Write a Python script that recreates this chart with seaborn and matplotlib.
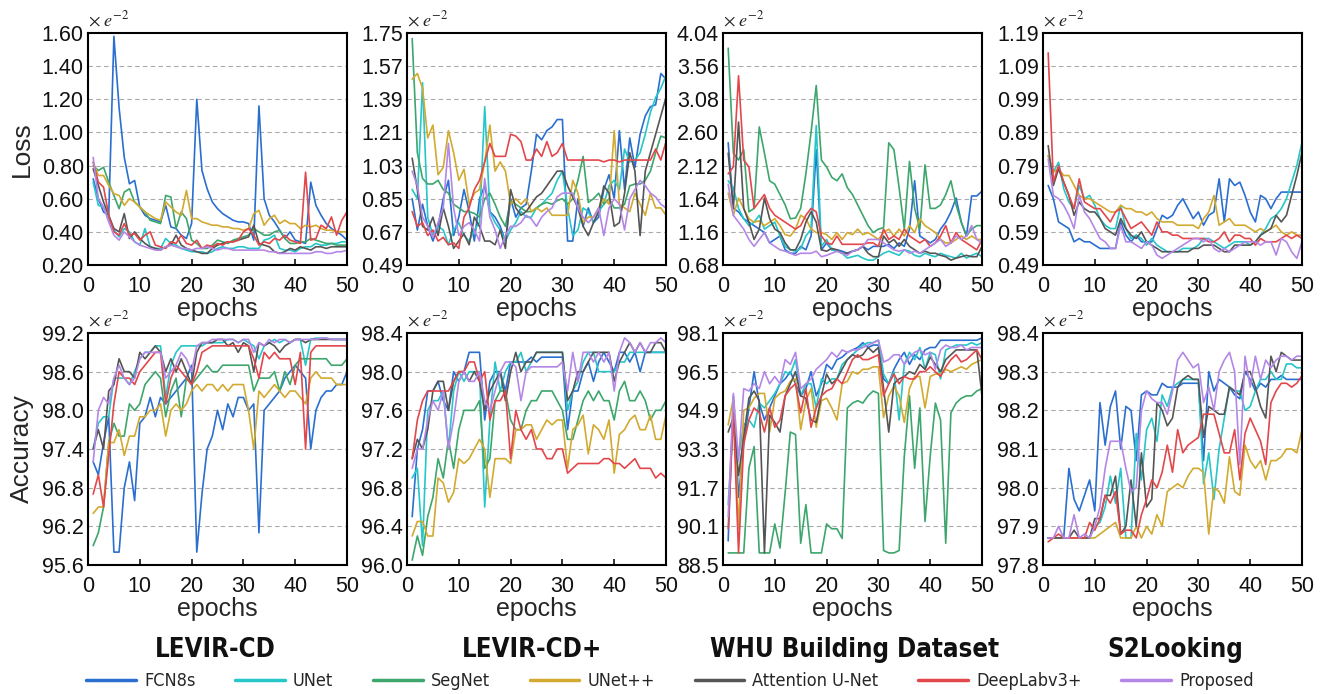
import matplotlib
matplotlib.use('Agg')
import matplotlib.pyplot as plt
import numpy as np
import pandas as pd
import seaborn as sns
from matplotlib.lines import Line2D

sns.set_theme(style='white')
plt.rcParams['font.family'] = ['Liberation Sans', 'DejaVu Sans']
plt.rcParams['mathtext.fontset'] = 'stix'

epochs = list(range(1, 51))
models = ['FCN8s', 'UNet', 'SegNet', 'UNet++', 'Attention U-Net', 'DeepLabv3+', 'Proposed']
colors = ['#2a6fd0', '#26c6c9', '#3da66c', '#d2aa2f', '#555555', '#e2474b', '#b487e6']
datasets = ['LEVIR-CD', 'LEVIR-CD+', 'WHU Building Dataset', 'S2Looking']

# ---------------- LEVIR-CD loss ----------------
levir_loss_fcn8s = [0.72,0.60,0.52,0.50,1.58,1.15,0.85,0.69,0.71,0.55, 0.50,0.48,0.47,0.46,0.56,0.43,0.42,0.38,0.36,0.45,
                    1.20,0.77,0.66,0.58,0.54,0.51,0.49,0.47,0.46,0.46, 0.45,0.35,1.16,0.60,0.50,0.46,0.41,0.36,0.40,0.35,
                    0.34,0.33,0.70,0.56,0.50,0.45,0.42,0.40,0.38,0.35]
levir_loss_unet = [0.70,0.56,0.55,0.48,0.41,0.37,0.42,0.40,0.34,0.32, 0.42,0.31,0.30,0.30,0.36,0.33,0.32,0.30,0.29,0.28,
                   0.28,0.28,0.27,0.28,0.30,0.31,0.30,0.30,0.31,0.31, 0.30,0.30,0.30,0.35,0.36,0.38,0.30,0.29,0.29,0.28,
                   0.30,0.31,0.31,0.33,0.32,0.32,0.33,0.33,0.34,0.34]
levir_loss_segnet = [0.80,0.77,0.79,0.70,0.62,0.54,0.64,0.66,0.58,0.55, 0.52,0.47,0.46,0.45,0.62,0.61,0.42,0.52,0.48,0.35,
                     0.33,0.30,0.30,0.32,0.35,0.34,0.33,0.35,0.36,0.37, 0.38,0.42,0.40,0.38,0.38,0.40,0.41,0.36,0.33,0.33,
                     0.34,0.34,0.36,0.35,0.34,0.33,0.33,0.32,0.32,0.32]
levir_loss_unetpp = [0.82,0.74,0.74,0.68,0.63,0.62,0.56,0.60,0.58,0.55, 0.52,0.50,0.48,0.47,0.58,0.55,0.52,0.50,0.65,0.48,
                     0.48,0.46,0.45,0.44,0.44,0.43,0.43,0.42,0.42,0.41, 0.42,0.51,0.53,0.44,0.48,0.50,0.45,0.47,0.45,0.45,
                     0.42,0.44,0.43,0.44,0.42,0.41,0.41,0.40,0.40,0.40]
levir_loss_attn = [0.78,0.68,0.58,0.50,0.42,0.40,0.51,0.36,0.40,0.36, 0.33,0.31,0.30,0.29,0.31,0.32,0.38,0.32,0.30,0.29,
                   0.28,0.27,0.27,0.30,0.32,0.33,0.34,0.34,0.35,0.36, 0.37,0.44,0.33,0.32,0.31,0.28,0.27,0.28,0.30,0.29,
                   0.31,0.30,0.29,0.31,0.31,0.30,0.31,0.31,0.31,0.31]
levir_loss_deeplab = [0.82,0.70,0.67,0.50,0.40,0.38,0.45,0.38,0.39,0.35, 0.38,0.40,0.32,0.31,0.30,0.34,0.33,0.38,0.33,0.32,
                      0.35,0.30,0.32,0.31,0.33,0.32,0.34,0.34,0.35,0.40, 0.42,0.38,0.32,0.34,0.33,0.36,0.35,0.38,0.35,0.34,
                      0.33,0.76,0.35,0.36,0.44,0.42,0.49,0.38,0.47,0.52]
levir_loss_proposed = [0.85,0.60,0.55,0.46,0.38,0.35,0.40,0.37,0.34,0.32, 0.31,0.30,0.29,0.29,0.31,0.32,0.31,0.30,0.30,0.29,
                       0.30,0.30,0.31,0.30,0.29,0.30,0.30,0.29,0.29,0.29, 0.29,0.29,0.29,0.29,0.28,0.28,0.27,0.27,0.27,0.27,
                       0.27,0.27,0.27,0.28,0.28,0.27,0.27,0.28,0.28,0.29]

# ---------------- LEVIR-CD+ loss ----------------
levirp_loss_fcn8s = [0.85,0.68,0.82,0.70,0.62,0.70,0.85,0.95,0.65,0.75, 0.90,0.78,0.62,0.85,0.92,0.78,0.75,0.70,0.62,0.85,
                     0.75,0.80,0.82,1.00,1.20,1.17,1.22,1.24,1.28,1.28, 0.62,0.62,0.85,0.70,0.80,0.72,0.75,0.90,0.98,0.85,
                     1.22,0.90,1.18,1.02,1.20,1.30,1.35,1.36,1.53,1.50]
levirp_loss_unet = [0.90,0.85,1.48,0.75,0.65,0.70,0.68,0.60,0.68,0.72, 0.65,0.62,0.68,0.72,1.35,0.78,0.72,0.68,0.62,0.68,
                    0.72,0.78,0.75,0.75,0.80,0.82,0.85,0.88,0.95,1.00, 0.80,0.65,0.68,0.80,0.78,0.72,0.78,0.82,0.92,0.95,
                    0.90,1.12,1.05,1.06,1.10,1.20,1.32,1.40,1.45,1.52]
levirp_loss_segnet = [1.72,1.10,0.96,0.93,0.93,0.95,0.90,0.88,0.82,0.80, 0.78,0.78,0.77,0.75,0.85,0.88,0.82,0.75,0.70,0.84,
                      0.82,0.80,0.78,0.78,0.80,0.82,0.83,0.82,0.84,0.85, 0.82,0.85,0.95,1.08,0.83,0.85,0.88,0.82,0.85,0.80,
                      0.80,0.82,0.92,0.93,0.93,0.95,1.00,1.10,1.19,1.18]
levirp_loss_unetpp = [1.50,1.53,1.45,1.18,1.25,0.98,1.02,1.22,1.10,0.95, 1.01,0.82,0.88,0.90,1.05,1.25,1.00,1.05,1.00,0.82,
                      0.85,0.82,0.85,0.78,0.80,0.78,0.80,0.76,0.76,0.76, 0.76,0.95,0.88,0.72,0.75,0.75,0.80,0.85,0.82,1.22,
                      0.82,0.80,0.78,0.88,0.82,0.76,0.88,0.80,0.80,0.76]
levirp_loss_attn = [1.07,0.90,0.70,0.68,0.75,0.65,0.80,0.70,0.58,0.62, 0.66,0.60,0.75,0.70,0.62,0.62,0.60,0.68,0.58,0.90,
                    0.80,0.76,0.78,0.82,0.86,0.88,0.92,0.96,1.00,1.00, 0.92,0.86,0.80,0.70,0.65,0.72,0.78,0.92,0.88,0.70,
                    0.72,0.88,1.10,1.00,0.65,1.00,1.10,1.20,1.30,1.40]
levirp_loss_deeplab = [0.78,0.70,0.72,0.65,0.68,0.62,0.64,0.60,0.61,0.58, 0.75,0.80,0.90,0.95,1.05,1.15,1.08,1.08,1.08,1.20,
                       1.19,1.16,1.06,1.06,1.12,1.08,1.16,1.08,1.10,1.15, 1.06,1.06,1.06,1.06,1.06,1.06,1.06,1.05,1.06,1.06,
                       1.05,1.06,1.06,1.06,1.06,1.06,1.06,1.12,1.06,1.16]
levirp_loss_proposed = [1.00,0.92,0.75,0.70,0.64,0.72,0.80,1.15,0.80,0.65, 0.70,0.72,0.68,0.62,0.96,0.75,0.68,0.58,0.65,0.70,
                        0.70,0.72,0.76,0.74,0.70,0.75,0.78,0.80,0.86,0.88, 0.88,0.88,0.80,0.75,0.72,0.75,0.80,0.65,0.80,0.85,
                        0.82,0.68,0.85,0.90,0.95,0.92,0.88,0.86,0.82,0.80]

# ---------------- WHU loss ----------------
whu_loss_fcn8s = [2.45,1.50,1.45,1.35,1.30,1.25,1.20,1.15,1.00,1.05, 1.10,0.90,0.85,0.85,0.95,0.90,1.10,2.35,0.90,1.00,
                  0.90,0.90,0.88,0.85,0.88,0.90,0.95,0.90,0.95,0.95, 0.95,0.98,0.92,1.00,0.95,1.20,1.90,1.10,1.05,1.00,
                  1.05,1.20,1.30,1.45,1.65,1.30,1.10,1.68,1.68,1.75]
whu_loss_unet = [1.90,1.80,1.50,1.35,1.25,1.30,1.40,1.20,1.25,1.30, 1.10,0.95,0.90,0.88,0.92,1.10,1.20,2.70,0.95,1.05,
                 0.90,0.88,0.85,0.78,0.80,0.82,0.78,0.75,0.75,0.80, 0.85,0.88,0.85,0.82,0.90,0.88,0.82,0.80,0.85,0.82,
                 0.80,0.85,0.82,0.80,0.78,0.85,0.78,0.82,0.85,0.80]
whu_loss_segnet = [3.82,2.30,2.20,2.35,1.45,1.50,2.68,2.30,1.90,1.85, 1.70,1.55,1.35,1.36,1.50,2.00,2.60,3.28,2.20,2.10,
                   1.95,1.90,2.00,1.80,1.70,1.55,1.40,1.25,1.15,1.20, 1.22,2.45,2.35,1.80,1.20,2.18,1.50,1.20,2.13,1.50,
                   1.50,1.55,1.70,1.90,1.55,1.30,1.10,1.20,1.25,1.25]
whu_loss_unetpp = [1.72,1.40,1.65,1.50,1.35,1.30,1.32,1.25,1.30,1.35, 1.25,1.12,1.10,1.20,1.40,1.35,1.20,1.15,1.15,1.12,
                   1.05,1.15,1.05,1.15,1.12,1.20,1.12,1.15,1.10,1.05, 1.15,1.20,1.10,1.20,1.10,1.25,1.15,1.35,1.25,1.20,
                   1.15,1.05,1.00,1.00,1.05,1.10,1.05,1.10,1.05,1.05]
whu_loss_attn = [2.30,1.50,2.75,1.50,1.30,1.05,1.20,1.65,1.35,1.20, 1.15,1.00,0.90,0.90,1.05,1.30,1.45,1.30,0.90,0.88,
                 0.92,0.90,0.85,0.85,0.88,0.90,0.95,0.85,0.80,0.80, 1.10,1.00,1.05,0.95,1.05,0.95,0.90,0.85,0.88,0.85,
                 0.85,0.82,0.80,0.75,0.78,0.80,0.82,0.80,0.80,0.95]
whu_loss_deeplab = [2.00,2.10,3.42,2.20,2.10,1.50,1.60,1.70,1.50,1.40, 1.35,1.30,1.25,1.20,1.25,1.40,1.50,1.45,1.10,1.00,
                    0.98,1.10,0.98,0.98,0.98,0.98,0.98,1.00,1.00,0.95, 1.20,1.05,1.10,1.05,1.20,1.10,1.05,1.00,1.05,0.95,
                    1.00,1.10,1.25,1.00,1.15,1.05,1.00,0.95,0.90,1.05]
whu_loss_proposed = [1.85,1.40,1.30,1.20,1.05,0.95,1.05,1.15,1.00,0.95, 0.90,0.88,0.85,0.82,0.85,0.85,0.85,0.88,0.80,0.82,
                     0.85,0.88,0.85,0.82,0.88,0.90,0.95,1.05,1.05,1.05, 1.00,0.95,0.90,0.88,0.90,0.85,0.88,0.85,0.90,0.95,
                     1.00,1.05,0.95,1.00,1.10,1.05,1.10,1.25,1.05,1.00]

# ---------------- S2Looking loss ----------------
s2_loss_fcn8s = [0.73,0.69,0.62,0.61,0.60,0.56,0.57,0.56,0.56,0.55, 0.54,0.54,0.54,0.54,0.62,0.58,0.56,0.58,0.56,0.56,
                 0.56,0.60,0.64,0.63,0.64,0.67,0.69,0.66,0.63,0.65, 0.61,0.64,0.65,0.75,0.62,0.75,0.73,0.74,0.70,0.65,
                 0.62,0.70,0.69,0.66,0.69,0.71,0.71,0.71,0.71,0.71]
s2_loss_unet = [0.82,0.77,0.80,0.72,0.68,0.66,0.73,0.69,0.70,0.67, 0.63,0.61,0.60,0.60,0.67,0.60,0.57,0.58,0.57,0.55,
                0.57,0.55,0.54,0.53,0.53,0.53,0.54,0.54,0.54,0.55, 0.57,0.57,0.56,0.55,0.54,0.55,0.56,0.56,0.56,0.55,
                0.56,0.58,0.60,0.63,0.64,0.66,0.69,0.74,0.79,0.86]
s2_loss_segnet = [np.nan] * 50
s2_loss_unetpp = [0.82,0.77,0.78,0.76,0.76,0.73,0.70,0.69,0.69,0.68, 0.67,0.66,0.65,0.65,0.67,0.66,0.66,0.65,0.65,0.64,
                  0.65,0.63,0.62,0.62,0.62,0.61,0.61,0.61,0.61,0.60, 0.63,0.65,0.70,0.61,0.62,0.63,0.61,0.61,0.61,0.60,
                  0.59,0.60,0.59,0.60,0.61,0.59,0.58,0.59,0.58,0.58]
s2_loss_attn = [0.85,0.73,0.78,0.74,0.70,0.64,0.68,0.66,0.65,0.65, 0.63,0.60,0.59,0.58,0.63,0.60,0.58,0.57,0.59,0.56,
                0.55,0.54,0.53,0.53,0.53,0.53,0.53,0.53,0.54,0.54, 0.55,0.55,0.55,0.54,0.53,0.53,0.55,0.55,0.55,0.55,
                0.56,0.58,0.59,0.60,0.64,0.62,0.64,0.70,0.76,0.83]
s2_loss_deeplab = [1.13,0.74,0.79,0.74,0.70,0.66,0.75,0.68,0.67,0.66, 0.66,0.64,0.62,0.65,0.66,0.63,0.60,0.61,0.62,0.60,
                   0.58,0.62,0.59,0.59,0.58,0.58,0.57,0.57,0.57,0.57, 0.57,0.56,0.56,0.57,0.59,0.56,0.58,0.58,0.57,0.57,
                   0.55,0.57,0.56,0.56,0.56,0.57,0.58,0.57,0.58,0.57]
s2_loss_proposed = [0.81,0.70,0.69,0.67,0.64,0.60,0.70,0.65,0.63,0.60, 0.57,0.56,0.54,0.54,0.61,0.56,0.56,0.55,0.54,0.56,
                    0.55,0.52,0.51,0.52,0.53,0.54,0.55,0.56,0.57,0.57, 0.56,0.57,0.54,0.53,0.54,0.53,0.54,0.55,0.56,0.56,
                    0.56,0.55,0.56,0.56,0.52,0.57,0.56,0.53,0.51,0.56]

# ---------------- LEVIR-CD accuracy ----------------
levir_acc_fcn8s = [97.2,97.0,97.5,97.9,95.8,95.8,96.8,97.2,96.6,97.8, 97.9,98.2,97.9,98.2,98.1,98.2,98.3,98.4,98.5,98.7,
                   95.8,96.7,97.4,97.6,98.0,97.7,98.1,97.9,98.2,98.2, 98.0,98.1,96.1,98.0,98.1,98.2,98.3,98.5,98.6,98.7,
                   98.6,98.5,97.4,98.0,98.2,98.3,98.3,98.4,98.4,98.6]
levir_acc_unet = [97.4,97.8,97.9,97.9,98.5,98.5,98.5,98.4,98.6,98.8, 98.9,98.9,99.0,99.0,98.2,98.7,98.9,99.0,99.0,99.0,
                  99.0,99.0,99.05,99.05,99.05,99.05,99.1,99.1,99.05,99.1, 99.05,99.0,98.8,99.0,99.05,99.1,99.05,99.1,99.05,99.1,
                  99.1,98.7,99.1,99.12,99.12,99.12,99.1,99.1,99.1,99.1]
levir_acc_segnet = [95.9,96.1,96.5,97.5,97.8,97.6,97.6,98.1,98.0,98.1, 98.4,98.5,98.6,98.5,97.9,98.3,98.5,97.9,98.5,98.4,
                    98.5,98.6,98.7,98.6,98.6,98.7,98.7,98.7,98.7,98.7, 98.7,98.3,98.5,98.5,98.5,98.6,98.3,98.6,98.4,98.7,
                    98.8,98.8,98.8,98.8,98.8,98.8,98.7,98.7,98.7,98.8]
levir_acc_unetpp = [96.4,96.5,96.5,97.5,97.5,97.7,97.3,97.6,97.6,97.9, 97.9,98.0,98.0,98.1,97.6,98.0,98.1,98.0,98.1,98.3,
                    98.4,98.3,98.4,98.4,98.3,98.4,98.3,98.4,98.4,98.4, 98.0,97.4,98.3,98.2,98.3,98.4,98.3,98.2,98.3,98.3,
                    98.2,98.1,98.5,98.6,98.5,98.5,98.5,98.4,98.4,98.4]
levir_acc_attn = [97.4,97.7,97.4,98.3,98.4,98.8,98.6,98.6,98.5,98.9, 98.8,98.9,99.0,98.9,98.6,98.8,98.6,98.8,98.6,98.4,
                  98.9,99.05,99.05,99.05,99.1,99.1,99.0,99.05,98.9,99.05, 99.0,98.6,99.05,99.0,99.05,99.0,98.9,99.0,99.05,99.1,
                  99.1,99.05,99.1,99.1,99.1,99.1,99.1,99.1,99.1,99.1]
levir_acc_deeplab = [96.7,97.0,96.5,97.3,98.1,98.6,98.5,98.5,98.4,98.6, 98.7,98.8,98.9,98.9,98.1,98.5,98.7,98.6,98.5,98.4,
                     98.6,98.9,98.95,99.0,99.0,99.0,99.0,99.0,99.0,99.0, 99.0,98.8,98.5,98.9,98.8,98.9,98.8,98.8,98.8,98.4,
                     98.9,97.4,98.9,99.0,99.0,99.0,99.0,99.0,99.0,99.0]
levir_acc_proposed = [97.2,98.0,98.2,98.1,98.5,98.7,98.5,98.4,98.5,98.8, 98.9,98.9,98.9,98.9,98.5,98.6,98.7,98.9,98.8,98.6,
                      99.0,99.05,99.05,99.1,99.1,99.1,99.1,99.1,99.05,99.1, 99.1,98.9,99.05,99.0,99.1,99.05,99.1,99.1,99.05,99.1,
                      99.1,99.1,99.1,99.1,99.12,99.12,99.1,99.1,99.1,99.1]

# ---------------- LEVIR-CD+ accuracy ----------------
levirp_acc_fcn8s = [96.5,97.2,97.4,97.8,97.8,97.9,97.7,97.6,98.0,97.9, 98.0,98.2,98.2,98.2,97.5,97.9,98.0,98.0,97.8,98.1,
                    98.1,98.1,98.1,98.15,98.1,98.15,98.15,98.15,98.15,98.15, 97.4,97.8,97.8,98.0,98.1,97.9,98.1,98.2,98.1,98.0,
                    98.2,98.2,98.1,98.2,98.0,98.2,98.2,98.2,98.2,98.2]
levirp_acc_unet = [96.9,97.0,96.2,97.6,97.7,97.7,97.8,97.2,97.8,98.0, 97.9,98.0,98.0,98.0,96.6,97.5,98.1,97.8,98.0,98.1,
                   98.1,98.2,98.0,98.1,98.2,98.2,98.2,98.2,98.2,98.2, 97.6,97.8,97.9,98.1,98.2,98.2,98.0,98.0,98.0,98.0,
                   98.1,98.1,98.2,98.2,98.2,98.2,98.2,98.2,98.2,98.2]
levirp_acc_segnet = [96.05,96.3,96.1,96.5,96.7,97.1,96.9,97.3,97.0,97.4, 97.6,97.6,97.6,97.7,97.0,97.1,97.7,97.8,97.8,97.5,
                     97.4,97.4,97.6,97.7,97.7,97.8,97.8,97.8,97.7,97.6, 97.3,97.3,97.5,97.7,97.8,97.7,97.8,97.7,97.7,97.5,
                     97.8,97.9,97.7,97.7,97.8,97.7,97.5,97.6,97.6,97.7]
levirp_acc_unetpp = [96.3,96.45,96.45,96.3,96.3,96.9,96.85,96.65,96.75,97.1, 97.05,97.1,97.2,97.3,97.2,96.7,97.1,97.1,97.1,97.05,
                     97.4,97.4,97.45,97.45,97.3,97.4,97.5,97.45,97.5,97.5, 97.0,97.4,97.45,97.55,97.15,97.45,97.4,97.3,97.5,96.95,
                     97.35,97.4,97.5,97.55,97.4,97.4,97.55,97.3,97.3,97.55]
levirp_acc_attn = [97.1,97.3,97.2,97.4,97.8,97.9,97.9,97.6,97.9,98.0, 98.0,97.9,98.0,97.9,97.6,97.8,97.9,98.0,97.7,98.0,
                   98.2,98.0,98.1,98.1,98.2,98.2,98.2,98.2,98.2,98.2, 97.7,97.8,98.0,98.0,98.1,98.2,98.2,98.2,98.2,97.9,
                   98.1,98.2,98.3,98.2,98.3,98.2,98.2,98.3,98.3,98.2]
levirp_acc_deeplab = [97.1,97.5,97.7,97.8,97.8,97.8,97.8,97.8,97.9,98.0, 98.0,98.1,98.1,97.9,98.0,97.5,97.7,97.7,97.8,97.1,
                      97.6,97.4,97.3,97.4,97.2,97.2,97.1,97.1,97.2,97.2, 96.95,97.0,97.05,97.05,97.05,97.05,97.05,97.1,97.1,97.05,
                      97.05,97.0,97.05,97.1,97.0,97.0,97.0,96.9,96.95,96.9]
levirp_acc_proposed = [97.0,97.2,97.2,97.5,97.7,97.6,97.8,97.2,97.5,97.9, 98.0,97.9,97.9,98.0,97.7,97.6,97.8,98.0,98.1,98.1,
                       98.05,97.7,98.0,98.05,98.05,98.05,98.05,98.05,98.05,98.1, 97.8,98.2,97.9,98.2,98.2,98.1,98.2,98.1,98.2,97.8,
                       98.2,98.35,98.3,98.2,98.3,98.2,98.3,98.3,98.35,98.3]

# ---------------- WHU accuracy ----------------
whu_acc_fcn8s = [89.5,95.5,91.3,93.5,95.0,96.5,95.2,94.5,95.0,95.5, 96.0,96.2,96.5,96.0,95.5,95.8,96.5,95.5,96.0,96.8,
                 96.6,97.0,97.1,97.3,97.4,97.5,97.7,97.5,97.6,97.6, 96.2,96.0,96.6,97.0,97.3,96.8,97.2,97.0,97.4,97.5,
                 97.5,97.8,97.8,97.8,97.8,97.8,97.8,97.8,97.8,97.9]
whu_acc_unet = [91.0,94.5,93.0,94.3,94.5,94.2,95.2,95.0,95.3,95.6, 96.0,96.5,96.4,97.0,95.5,96.0,96.0,95.0,96.2,96.0,
                96.2,96.2,96.8,97.0,97.2,97.4,97.6,97.7,97.7,97.8, 96.4,96.0,96.5,94.5,96.8,97.3,97.0,97.5,96.6,97.3,
                97.2,96.2,97.4,97.5,97.6,97.6,97.6,97.7,97.6,97.7]
whu_acc_segnet = [89.0,89.0,89.0,89.0,92.5,93.4,89.0,89.0,89.0,90.2, 89.2,91.5,94.0,93.9,89.4,91.0,89.0,89.0,89.0,90.2,
                  90.0,90.0,89.6,95.0,95.2,95.3,95.2,95.5,95.7,95.6, 89.1,89.0,89.0,89.1,93.0,95.5,92.5,95.0,90.3,93.0,
                  95.2,94.5,89.4,94.8,95.2,95.4,95.5,95.5,95.7,95.8]
whu_acc_unetpp = [94.3,95.4,90.0,94.9,95.0,95.4,95.6,95.6,94.0,95.4, 95.6,95.7,96.1,96.2,94.1,95.3,95.8,94.2,95.3,95.4,
                  95.0,94.5,96.0,96.1,96.5,96.4,96.6,96.6,96.7,96.7, 94.6,95.5,95.9,95.5,94.4,95.8,96.3,96.3,95.0,96.3,
                  96.4,96.4,96.6,96.5,96.6,96.7,96.6,96.8,96.9,97.0]
whu_acc_attn = [94.0,94.6,92.2,93.8,95.4,95.7,95.3,89.0,94.7,94.4, 94.0,95.5,96.0,96.5,95.5,95.4,94.5,94.4,95.5,96.4,
                96.0,96.2,96.6,97.0,97.2,97.1,97.2,97.5,97.3,97.5, 95.8,94.0,96.0,96.2,96.3,96.5,96.4,96.8,96.6,97.1,
                96.8,96.5,97.0,97.2,97.4,97.4,97.4,97.4,97.4,95.5]
whu_acc_deeplab = [90.0,94.8,89.0,93.5,94.5,95.0,94.8,94.0,95.0,94.2, 94.5,95.5,95.8,96.0,94.8,95.8,94.2,95.0,95.5,95.7,
                   95.8,96.2,96.0,96.5,97.0,97.2,97.0,97.0,97.1,97.2, 95.5,96.0,96.4,96.0,96.3,96.2,96.2,96.5,96.5,96.7,
                   96.5,96.3,96.7,97.0,97.2,96.9,97.0,97.2,97.4,97.0]
whu_acc_proposed = [90.5,95.6,92.8,95.8,95.7,96.0,95.8,96.5,96.0,96.3, 96.0,97.0,96.8,97.3,95.8,96.0,96.2,96.6,96.8,97.0,
                    97.3,97.1,97.4,97.3,97.4,97.4,97.5,97.6,97.7,97.8, 96.9,97.0,97.2,97.2,96.8,97.1,97.3,97.4,97.2,97.3,
                    96.6,97.4,97.6,97.5,97.5,97.6,97.4,97.5,97.5,97.5]

# ---------------- S2Looking accuracy ----------------
s2_acc_fcn8s = [97.87,97.87,97.87,97.87,98.05,97.97,97.94,97.98,98.02,97.94, 98.22,98.11,98.21,98.25,98.10,98.21,98.20,98.07,98.24,98.25,
                98.24,98.24,98.27,98.26,98.26,98.26,98.27,98.27,98.27,98.27, 98.07,98.30,98.25,98.28,98.27,98.26,98.24,98.23,98.30,98.28,
                98.25,98.27,98.26,98.28,98.28,98.29,98.28,98.28,98.28,98.28]
s2_acc_unet = [97.87,97.87,97.87,97.87,97.87,97.87,97.87,97.87,97.87,97.90, 97.91,97.95,98.03,97.96,98.05,97.87,97.87,98.14,98.02,98.15,
               98.18,98.12,98.24,98.21,98.26,98.27,98.28,98.28,98.28,98.28, 98.01,98.09,97.97,98.10,98.18,98.26,98.25,98.25,98.20,98.21,
               98.25,98.28,98.28,98.30,98.28,98.28,98.32,98.32,98.31,98.31]
s2_acc_segnet = [np.nan] * 50
s2_acc_unetpp = [97.87,97.87,97.87,97.87,97.87,97.87,97.87,97.87,97.87,97.87, 97.88,97.89,97.90,97.91,97.87,97.87,97.87,97.90,97.87,97.90,
                 97.88,97.93,97.90,97.99,98.00,98.01,98.00,98.03,98.05,98.05, 98.04,97.88,98.00,97.99,97.96,98.08,97.99,97.98,98.11,98.07,
                 98.05,98.07,98.02,98.07,98.07,98.08,98.10,98.10,98.09,98.15]
s2_acc_attn = [97.87,97.87,97.87,97.87,97.87,97.89,97.87,97.87,97.87,97.92, 97.92,97.98,97.98,98.03,97.88,97.90,98.02,97.90,98.09,97.95,
               97.97,98.22,98.20,98.16,98.18,98.26,98.28,98.29,98.28,98.28, 98.13,98.21,98.20,98.19,98.19,98.26,98.25,98.24,98.30,98.30,
               98.26,98.21,98.18,98.34,98.30,98.35,98.34,98.33,98.33,98.33]
s2_acc_deeplab = [97.86,97.87,97.88,97.87,97.87,97.87,97.87,97.87,97.91,97.89, 97.92,97.98,97.96,97.99,97.88,97.89,97.89,97.87,97.93,97.97,
                  98.02,98.00,98.04,98.11,98.04,98.15,98.09,98.11,98.12,98.13, 98.19,98.19,98.19,98.14,98.09,98.09,98.15,98.02,98.14,98.18,
                  98.15,98.12,98.06,98.22,98.25,98.27,98.27,98.26,98.27,98.29]
s2_acc_proposed = [97.87,97.87,97.90,97.87,97.87,97.93,97.87,97.88,97.87,97.90, 97.95,98.05,98.12,98.12,98.12,98.05,97.99,98.00,98.20,98.25,
                   98.23,98.22,98.22,98.19,98.25,98.33,98.35,98.33,98.31,98.32, 98.22,98.26,98.20,98.30,98.33,98.35,98.30,98.06,98.34,98.26,
                   98.34,98.28,98.33,98.31,98.33,98.34,98.34,98.33,98.34,98.34]

# tick labels
levir_loss_ticks = [0.20, 0.40, 0.60, 0.80, 1.00, 1.20, 1.40, 1.60]
levirp_loss_ticks = [0.49, 0.67, 0.85, 1.03, 1.21, 1.39, 1.57, 1.75]
whu_loss_ticks = [0.68, 1.16, 1.64, 2.12, 2.60, 3.08, 3.56, 4.04]
s2_loss_ticks = [0.49, 0.59, 0.69, 0.79, 0.89, 0.99, 1.09, 1.19]
levir_acc_ticks = [95.6, 96.2, 96.8, 97.4, 98.0, 98.6, 99.2]
levirp_acc_ticks = [96.0, 96.4, 96.8, 97.2, 97.6, 98.0, 98.4]
whu_acc_ticks = [88.5, 90.1, 91.7, 93.3, 94.9, 96.5, 98.1]
s2_acc_ticks = [97.8, 97.9, 98.0, 98.1, 98.2, 98.3, 98.4]
x_ticks = [0, 10, 20, 30, 40, 50]

loss_series = [
    [levir_loss_fcn8s, levir_loss_unet, levir_loss_segnet, levir_loss_unetpp, levir_loss_attn, levir_loss_deeplab, levir_loss_proposed],
    [levirp_loss_fcn8s, levirp_loss_unet, levirp_loss_segnet, levirp_loss_unetpp, levirp_loss_attn, levirp_loss_deeplab, levirp_loss_proposed],
    [whu_loss_fcn8s, whu_loss_unet, whu_loss_segnet, whu_loss_unetpp, whu_loss_attn, whu_loss_deeplab, whu_loss_proposed],
    [s2_loss_fcn8s, s2_loss_unet, s2_loss_segnet, s2_loss_unetpp, s2_loss_attn, s2_loss_deeplab, s2_loss_proposed],
]
acc_series = [
    [levir_acc_fcn8s, levir_acc_unet, levir_acc_segnet, levir_acc_unetpp, levir_acc_attn, levir_acc_deeplab, levir_acc_proposed],
    [levirp_acc_fcn8s, levirp_acc_unet, levirp_acc_segnet, levirp_acc_unetpp, levirp_acc_attn, levirp_acc_deeplab, levirp_acc_proposed],
    [whu_acc_fcn8s, whu_acc_unet, whu_acc_segnet, whu_acc_unetpp, whu_acc_attn, whu_acc_deeplab, whu_acc_proposed],
    [s2_acc_fcn8s, s2_acc_unet, s2_acc_segnet, s2_acc_unetpp, s2_acc_attn, s2_acc_deeplab, s2_acc_proposed],
]
loss_ticks = [levir_loss_ticks, levirp_loss_ticks, whu_loss_ticks, s2_loss_ticks]
acc_ticks = [levir_acc_ticks, levirp_acc_ticks, whu_acc_ticks, s2_acc_ticks]

W, H = 1335, 694
fig = plt.figure(figsize=(W / 100, H / 100), dpi=100)
palette = dict(zip(models, colors))

lefts = [88, 407, 723, 1043]
ax_w = 259
rows = [(33, 265), (333, 565)]


def draw(ax, series, ticks, fmt):
    frames = []
    for m, vals in zip(models, series):
        frames.append(pd.DataFrame({'epoch': epochs, 'value': vals, 'model': m}))
    df = pd.concat(frames, ignore_index=True).dropna()
    present = [m for m in models if m in set(df['model'])]
    sns.lineplot(data=df, x='epoch', y='value', hue='model', hue_order=present,
                 palette=palette, ax=ax, legend=False, linewidth=1.2, estimator=None)
    ax.set_xlim(0, 50)
    ax.set_ylim(ticks[0], ticks[-1])
    ax.set_xticks(x_ticks)
    ax.set_yticks(ticks)
    ax.set_yticklabels([fmt.format(t) for t in ticks])
    ax.set_xlabel('epochs', fontsize=18, labelpad=0)
    ax.set_ylabel('')
    ax.tick_params(axis='x', direction='in', length=4, width=1.2, pad=8, labelsize=15.5,
                   colors='#111111', bottom=True)
    ax.tick_params(axis='y', direction='in', length=0, pad=3, labelsize=15.5, colors='#111111')
    for t in ticks[1:-1]:
        ax.axhline(t, color='#aaaaaa', linestyle=(0, (4, 3)), linewidth=0.8, zorder=0)
    for s in ax.spines.values():
        s.set_color('black')
        s.set_linewidth(1.5)
    ax.text(0.0, 1.015, r'$\times\ e^{-2}$', transform=ax.transAxes, ha='left', va='bottom',
            fontsize=13, color='#222222')


for r, (top, bot) in enumerate(rows):
    for c in range(4):
        ax = fig.add_axes([lefts[c] / W, 1 - bot / H, ax_w / W, (bot - top) / H])
        ax.set_facecolor('white')
        if r == 0:
            draw(ax, loss_series[c], loss_ticks[c], '{:.2f}')
        else:
            draw(ax, acc_series[c], acc_ticks[c], '{:.1f}')

fig.text(22 / W, 1 - 149 / H, 'Loss', rotation=90, ha='center', va='center', fontsize=19)
fig.text(22 / W, 1 - 449 / H, 'Accuracy', rotation=90, ha='center', va='center', fontsize=19)

title_x = [215, 532, 855, 1175]
for name, tx in zip(datasets, title_x):
    fig.text(tx / W, 1 - 650 / H, name, ha='center', va='center', fontsize=18.5,
             fontweight='bold', family='DejaVu Sans', fontstretch='condensed', color='#111111')

handles = [Line2D([0], [0], color=col, linewidth=2.5) for col in colors]
fig.legend(handles, models, loc='center', bbox_to_anchor=(670 / W, 1 - 681 / H), ncol=7,
           frameon=False, prop={'family': 'DejaVu Sans', 'size': 13, 'stretch': 'condensed'},
           handlelength=2.75, columnspacing=2.2, handletextpad=0.45)

fig.savefig('out.png', dpi=100, facecolor='white')
